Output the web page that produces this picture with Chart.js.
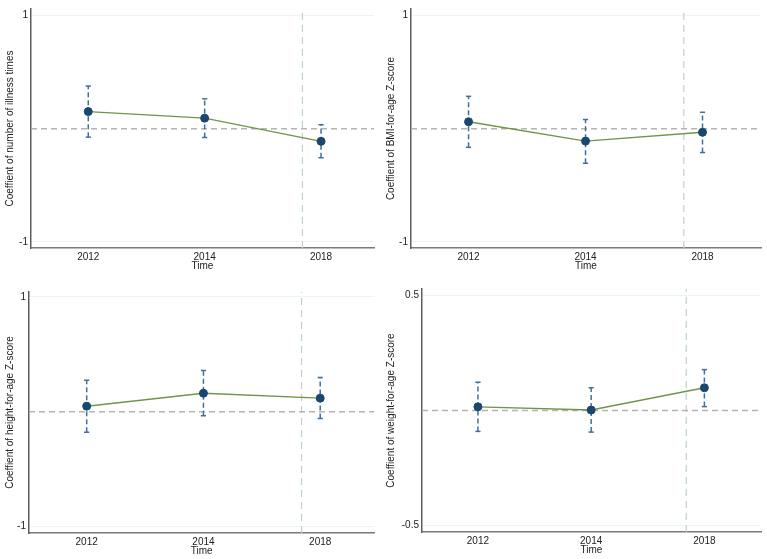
<!DOCTYPE html>
<html>
<head>
<meta charset="utf-8">
<script src="https://cdn.jsdelivr.net/npm/chart.js@4.4.1/dist/chart.umd.min.js"></script>
<style>
  body { margin: 0; background: #fff; }
  .panel { position: absolute; }
</style>
</head>
<body>
<div class="panel" style="left:0;top:0"><canvas id="p1" width="380" height="280"></canvas></div>
<div class="panel" style="left:380px;top:0"><canvas id="p2" width="387" height="280"></canvas></div>
<div class="panel" style="left:0;top:280px"><canvas id="p3" width="380" height="279"></canvas></div>
<div class="panel" style="left:380px;top:280px"><canvas id="p4" width="387" height="279"></canvas></div>
<script>
const years = ['2012', '2014', '2018'];

const illnessCoef = [0.151, 0.093, -0.112];
const illnessLow = [-0.075, -0.078, -0.257];
const illnessHigh = [0.377, 0.264, 0.035];

const bmiCoef = [0.061, -0.110, -0.032];
const bmiLow = [-0.165, -0.306, -0.211];
const bmiHigh = [0.286, 0.081, 0.145];

const heightCoef = [0.049, 0.162, 0.119];
const heightLow = [-0.179, -0.035, -0.058];
const heightHigh = [0.275, 0.359, 0.298];

const weightCoef = [0.016, 0.002, 0.099];
const weightLow = [-0.091, -0.094, 0.017];
const weightHigh = [0.123, 0.099, 0.178];

const yTicksWide = [-1, 1];
const yTicksNarrow = [-0.5, 0.5];
const referenceTime = 2.84; // dashed vertical line between 2014 and 2018

const FONT = 'Liberation Sans, Arial, sans-serif';

function makePanel(id, opt) {
    const ctx = document.getElementById(id).getContext('2d');
    const datasets = [];

    // point estimates + connecting line (drawn on top)
    datasets.push({
        data: years.map((y, i) => ({ x: i + 1, y: opt.coef[i] })),
        borderColor: '#6f9547',
        borderWidth: 1.4,
        pointRadius: 4,
        pointBackgroundColor: '#1a476f',
        pointBorderColor: '#1a476f',
        pointBorderWidth: 1
    });

    // confidence intervals
    years.forEach((y, i) => {
        datasets.push({
            data: [{ x: i + 1, y: opt.low[i] }, { x: i + 1, y: opt.high[i] }],
            borderColor: '#3f6f9f',
            borderWidth: 1.5,
            borderDash: [5, 3],
            pointStyle: 'line',
            pointRadius: 2.6,
            pointBorderColor: '#3f6f9f',
            pointBorderWidth: 1.5
        });
    });

    // zero reference line
    datasets.push({
        data: [{ x: opt.xMin, y: 0 }, { x: opt.xMax, y: 0 }],
        borderColor: '#b4b4b4',
        borderWidth: 1.5,
        borderDash: [6, 4],
        pointRadius: 0
    });

    // vertical reference line
    datasets.push({
        data: [{ x: referenceTime, y: opt.yMin }, { x: referenceTime, y: opt.yMax }],
        borderColor: '#bccfd7',
        borderWidth: 1.2,
        borderDash: [7, 5],
        pointRadius: 0
    });

    return new Chart(ctx, {
        type: 'line',
        data: { datasets: datasets },
        options: {
            responsive: false,
            animation: false,
            layout: { padding: opt.padding },
            plugins: { legend: { display: false }, tooltip: { enabled: false } },
            scales: {
                x: {
                    type: 'linear',
                    min: opt.xMin,
                    max: opt.xMax,
                    grid: { display: false, drawTicks: false },
                    border: { color: '#7a7a7a', width: 1.5 },
                    afterBuildTicks: s => { s.ticks = years.map((y, i) => ({ value: i + 1 })); },
                    afterFit: s => { s.height = 26; },
                    ticks: {
                        padding: 4,
                        color: '#222',
                        font: { family: FONT, size: 10, lineHeight: 1.1 },
                        callback: v => years[v - 1]
                    },
                    title: {
                        display: true,
                        text: 'Time',
                        color: '#222',
                        font: { family: FONT, size: 10, lineHeight: 1.2 },
                        padding: { top: 0, bottom: 1.5 }
                    }
                },
                y: {
                    min: opt.yMin,
                    max: opt.yMax,
                    grid: { color: '#eef4f5', lineWidth: 1, drawTicks: false },
                    border: { color: '#5e5e5e', width: 1.5 },
                    afterBuildTicks: s => { s.ticks = opt.yTicks.map(v => ({ value: v })); },
                    afterFit: s => { s.width = opt.yWidth; },
                    ticks: {
                        padding: 3,
                        color: '#222',
                        font: { family: FONT, size: 10 }
                    },
                    title: {
                        display: true,
                        text: opt.title,
                        color: '#222',
                        font: { family: FONT, size: 10, lineHeight: 1.2 },
                        padding: { top: opt.titlePad, bottom: 0 }
                    }
                }
            }
        }
    });
}

makePanel('p1', {
    coef: illnessCoef, low: illnessLow, high: illnessHigh,
    title: 'Coeffient of number of illness times',
    yMin: -1.055, yMax: 1.058, yTicks: yTicksWide,
    xMin: 0.508, xMax: 3.455, yWidth: 31, titlePad: 4,
    padding: { top: 5, right: 6, bottom: 6, left: 0 }
});

makePanel('p2', {
    coef: bmiCoef, low: bmiLow, high: bmiHigh,
    title: 'Coeffient of BMI-for-age Z-score',
    yMin: -1.055, yMax: 1.058, yTicks: yTicksWide,
    xMin: 0.508, xMax: 3.5, yWidth: 31, titlePad: 5.5,
    padding: { top: 5, right: 6, bottom: 6, left: 0 }
});

makePanel('p3', {
    coef: heightCoef, low: heightLow, high: heightHigh,
    title: 'Coeffient of height-for-age Z-score',
    yMin: -1.055, yMax: 1.043, yTicks: yTicksWide,
    xMin: 0.506, xMax: 3.465, yWidth: 29, titlePad: 4,
    padding: { top: 12, right: 5, bottom: 0, left: 0 }
});

makePanel('p4', {
    coef: weightCoef, low: weightLow, high: weightHigh,
    title: 'Coeffient of weight-for-age Z-score',
    yMin: -0.529, yMax: 0.529, yTicks: yTicksNarrow,
    xMin: 0.506, xMax: 3.5, yWidth: 42, titlePad: 5.5,
    padding: { top: 8, right: 6, bottom: 1, left: 0 }
});
</script>
</body>
</html>
